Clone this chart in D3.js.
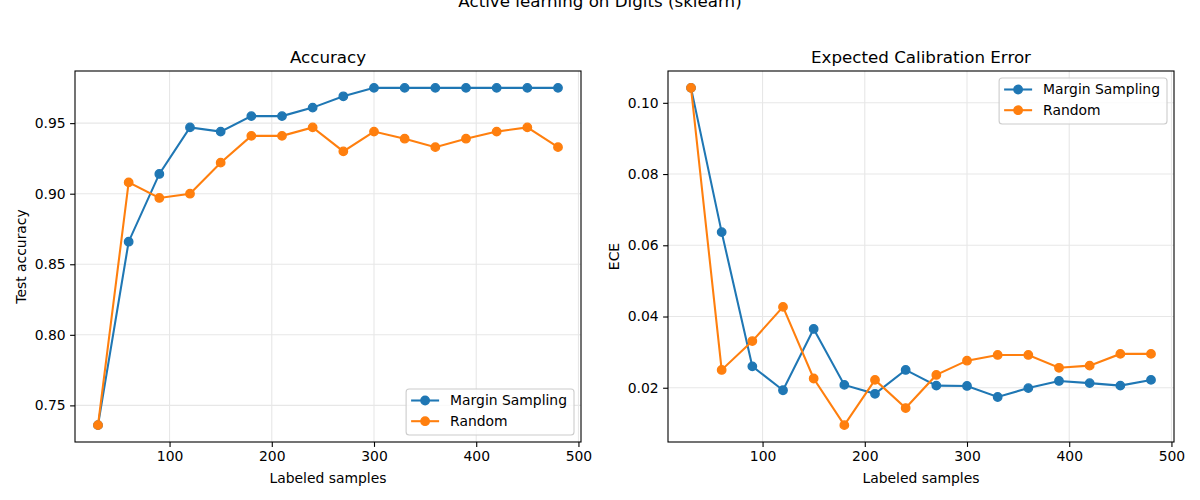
<!DOCTYPE html>
<html>
<head>
<meta charset="utf-8">
<script src="https://cdn.jsdelivr.net/npm/d3@7"></script>
<style>
  body { margin: 0; background: #fff; }
  svg { font-family: "DejaVu Sans", sans-serif; }
</style>
</head>
<body>
<div id="chart"></div>
<script>
const samples = [30, 60, 90, 120, 150, 180, 210, 240, 270, 300, 330, 360, 390, 420, 450, 480];
const seriesNames = ["Margin Sampling", "Random"];
const accMargin = [0.736, 0.866, 0.914, 0.947, 0.944, 0.955, 0.955, 0.961, 0.969, 0.975, 0.975, 0.975, 0.975, 0.975, 0.975, 0.975];
const accRandom = [0.736, 0.908, 0.897, 0.900, 0.922, 0.941, 0.941, 0.947, 0.930, 0.944, 0.939, 0.933, 0.939, 0.944, 0.947, 0.933];
const eceMargin = [0.1042, 0.0637, 0.0260, 0.0193, 0.0365, 0.0208, 0.0183, 0.0250, 0.0206, 0.0205, 0.0174, 0.0199, 0.0219, 0.0213, 0.0206, 0.0222];
const eceRandom = [0.1042, 0.0250, 0.0331, 0.0427, 0.0226, 0.0095, 0.0222, 0.0143, 0.0236, 0.0276, 0.0292, 0.0292, 0.0256, 0.0262, 0.0295, 0.0295];
const xTicks = [100, 200, 300, 400, 500];
const accTicks = [0.75, 0.80, 0.85, 0.90, 0.95];
const eceTicks = [0.02, 0.04, 0.06, 0.08, 0.10];
const colors = ["#1f77b4", "#ff7f0e"];

const W = 1200, H = 500;
const markerR = 4.2;
const svg = d3.select("#chart").append("svg").attr("width", W).attr("height", H);

// suptitle sits partly above the top edge, as in the source image
svg.append("text")
  .attr("x", 600).attr("y", 6.5)
  .attr("text-anchor", "middle")
  .style("font-size", "16.7px")
  .text("Active learning on Digits (sklearn)");

// matplotlib-ish 5% margin
function padded(vals) {
  const [lo, hi] = d3.extent(vals);
  const m = (hi - lo) * 0.05;
  return [lo - m, hi + m];
}

function marker(sel, color) {
  return sel.attr("r", markerR).attr("fill", color)
    .attr("stroke", color).attr("stroke-width", 1.39);
}

function panel(opts) {
  const { left, right, top, bottom, series, yTicks, title, ylabel, ylabelX, legendPos } = opts;
  const g = svg.append("g");
  const x = d3.scaleLinear().domain(padded(samples)).range([left, right]);
  const y = d3.scaleLinear().domain(padded(series.flat())).range([bottom, top]);

  // grid
  g.append("g").selectAll("line").data(xTicks).join("line")
    .attr("x1", d => x(d)).attr("x2", d => x(d))
    .attr("y1", top).attr("y2", bottom)
    .attr("stroke", "#e7e7e7").attr("stroke-width", 1.1);
  g.append("g").selectAll("line").data(yTicks).join("line")
    .attr("x1", left).attr("x2", right)
    .attr("y1", d => y(d)).attr("y2", d => y(d))
    .attr("stroke", "#e7e7e7").attr("stroke-width", 1.1);

  // axes
  const xAxis = d3.axisBottom(x).tickValues(xTicks).tickSize(4.9).tickPadding(4).tickFormat(d3.format("d"));
  const yAxis = d3.axisLeft(y).tickValues(yTicks).tickSize(4.9).tickPadding(4.5).tickFormat(d3.format(".2f"));
  const gx = g.append("g").attr("transform", `translate(0,${bottom})`).call(xAxis);
  const gy = g.append("g").attr("transform", `translate(${left},0)`).call(yAxis);
  [gx, gy].forEach(a => {
    a.select(".domain").remove();
    a.selectAll("line").attr("stroke", "#000").attr("stroke-width", 1.1);
    a.selectAll("text").style("font-size", "13.9px").attr("fill", "#000").style("font-family", "DejaVu Sans");
  });

  // lines + markers
  const line = d3.line().x((d, i) => x(samples[i])).y(d => y(d));
  series.forEach((s, k) => {
    g.append("path").datum(s).attr("d", line)
      .attr("fill", "none").attr("stroke", colors[k]).attr("stroke-width", 2.08);
    g.append("g").selectAll("circle").data(s).join("circle")
      .attr("cx", (d, i) => x(samples[i])).attr("cy", d => y(d))
      .call(marker, colors[k]);
  });

  // frame
  g.append("rect").attr("x", left).attr("y", top)
    .attr("width", right - left).attr("height", bottom - top)
    .attr("fill", "none").attr("stroke", "#000").attr("stroke-width", 1.1);

  g.append("text").attr("x", (left + right) / 2).attr("y", top - 8.5)
    .attr("text-anchor", "middle").style("font-size", "16.7px").text(title);
  g.append("text").attr("x", (left + right) / 2).attr("y", 482.5)
    .attr("text-anchor", "middle").style("font-size", "13.9px").text("Labeled samples");
  g.append("text")
    .attr("transform", `translate(${ylabelX},${(top + bottom) / 2}) rotate(-90)`)
    .attr("text-anchor", "middle").attr("dy", "0.35em")
    .style("font-size", "13.9px").text(ylabel);

  // legend
  const lg = g.append("g");
  const box = lg.append("rect").attr("fill", "#fff").attr("fill-opacity", 0.8)
    .attr("stroke", "#cccccc").attr("stroke-width", 1.1).attr("rx", 3);
  const texts = seriesNames.map(n => lg.append("text")
    .style("font-size", "13.9px").attr("dy", "0.35em").text(n));
  const tw = d3.max(texts, t => t.node().getComputedTextLength());
  const bw = 5 + 28 + 11 + tw + 7;
  const bh = 46;
  const bx = right - 7 - bw;
  const by = legendPos === "lr" ? bottom - 7 - bh : top + 7;
  box.attr("x", bx).attr("y", by).attr("width", bw).attr("height", bh);
  seriesNames.forEach((n, k) => {
    const cy = by + 11.5 + k * 20.7;
    lg.append("line").attr("x1", bx + 5).attr("x2", bx + 33).attr("y1", cy).attr("y2", cy)
      .attr("stroke", colors[k]).attr("stroke-width", 2.08);
    lg.append("circle").attr("cx", bx + 19).attr("cy", cy).call(marker, colors[k]);
    texts[k].attr("x", bx + 44).attr("y", cy);
  });
}

panel({ left: 75, right: 581, top: 71, bottom: 442, series: [accMargin, accRandom],
  yTicks: accTicks, title: "Accuracy", ylabel: "Test accuracy", ylabelX: 21, legendPos: "lr" });
panel({ left: 668, right: 1174, top: 71, bottom: 442, series: [eceMargin, eceRandom],
  yTicks: eceTicks, title: "Expected Calibration Error", ylabel: "ECE", ylabelX: 614, legendPos: "ur" });
</script>
</body>
</html>
